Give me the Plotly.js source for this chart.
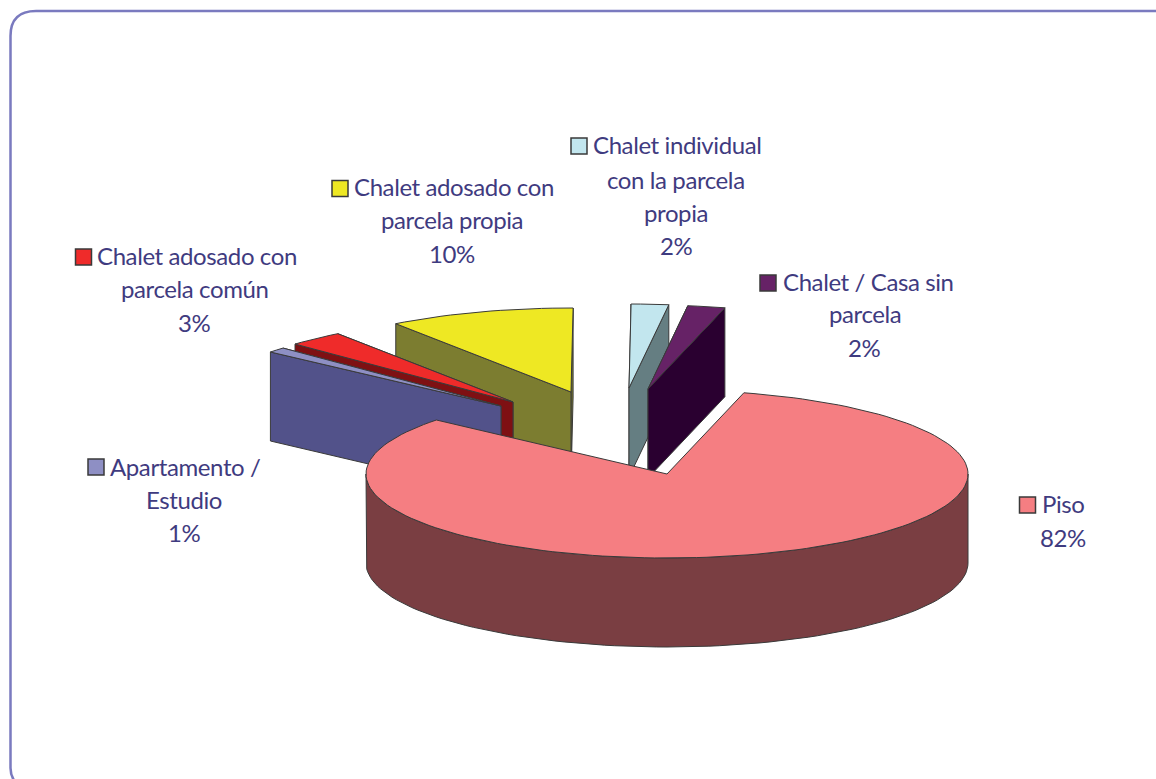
<!DOCTYPE html>
<html>
<head>
<meta charset="utf-8">
<script src="https://cdn.plot.ly/plotly-3.0.1.min.js"></script>
<style>
html,body{margin:0;padding:0;background:#fff;overflow:hidden}
#chart{width:1156px;height:779px}
.annotation-text{letter-spacing:-0.4px}
</style>
</head>
<body>
<div id="chart"></div>
<script>
// ---- data ----
const categories = ["Piso", "Apartamento / Estudio", "Chalet adosado con parcela común",
  "Chalet adosado con parcela propia", "Chalet individual con la parcela propia", "Chalet / Casa sin parcela"];
const values = [82, 1, 3, 10, 2, 2];
const labelLines = [["Piso"], ["Apartamento /", "Estudio"], ["Chalet adosado con", "parcela común"],
  ["Chalet adosado con", "parcela propia"], ["Chalet individual", "con la parcela", "propia"], ["Chalet / Casa sin", "parcela"]];

// ---- styles ----
const topColors = ["#F57E82", "#8E8FC4", "#EF2B2A", "#EEE823", "#C2E6EE", "#662266"];
const sideColors = ["#7A3E42", "#52528A", "#7E1013", "#7C7D30", "#657E82", "#2A0030"];
const textColor = "#3F3B80", edge = "#3A3A3A";

// ---- layout of the projected pie (pixel-valued axes) ----
const cx = 667, cy = 474, rx = 301, ry = 84, depth = 89, startAngle = 75.2;
const explode = [[0, 0], [-166, -68], [-154, -72], [-96, -82], [-38, -86], [-19, -85]];
const drawOrder = [3, 2, 1, 4, 5, 0];
// marker x,y ; first-line x ; centre x of other lines ; y of the lines
const labelPos = [
  {mx: 1027.5, my: 505, fx: 1040.5, cx: 1063, ys: [503.5, 537.5]},
  {mx: 96, my: 467, fx: 108.5, cx: 184, ys: [466.5, 499.5, 532.5]},
  {mx: 83.5, my: 257, fx: 95.5, cx: 194.5, ys: [255.5, 288.5, 322.5]},
  {mx: 340, my: 188.5, fx: 352.5, cx: 452, ys: [186.5, 219.5, 253.5]},
  {mx: 579, my: 146, fx: 591.5, cx: 676, ys: [144.5, 179.5, 212.5, 245.5]},
  {mx: 768, my: 283, fx: 781.5, cx: 864.5, ys: [281.5, 313.5, 347.5]}
];

const total = values.reduce((a, b) => a + b, 0);
const rad = d => d * Math.PI / 180;
let cursor = startAngle;
const spans = values.map(v => { const a = cursor, b = cursor - 360 * v / total; cursor = b; return [a, b]; });

function arc(a, b, ox, oy, dz) {
  const n = Math.max(2, Math.ceil(Math.abs(a - b) / 2)), xs = [], ys = [];
  for (let i = 0; i <= n; i++) {
    const t = a + (b - a) * i / n;
    xs.push(cx + ox + rx * Math.cos(rad(t)));
    ys.push(cy + oy + dz - ry * Math.sin(rad(t)));
  }
  return [xs, ys];
}
const poly = (xs, ys, fill, name) => ({
  type: "scatter", mode: "lines", x: xs.concat([xs[0]]), y: ys.concat([ys[0]]), fill: "toself", fillcolor: fill,
  line: {color: edge, width: 1}, hoverinfo: "text", text: name, showlegend: false
});

const traces = [];
drawOrder.forEach(i => {
  const [a, b] = spans[i], [ox, oy] = explode[i], px = cx + ox, py = cy + oy, name = categories[i];
  if (i === 0) {
    // curved front wall of the main slice
    const [tx, ty] = arc(0, -180, ox, oy, 0), [bx, by] = arc(-180, 0, ox, oy, depth);
    traces.push(poly(tx.concat(bx), ty.concat(by), sideColors[i], name));
  } else {
    // flat cut faces, the one nearest to horizontal in front
    [a, b].sort((p, q) => Math.abs(Math.cos(rad(p))) - Math.abs(Math.cos(rad(q)))).forEach(t => {
      const rxp = px + rx * Math.cos(rad(t)), ryp = py - ry * Math.sin(rad(t));
      traces.push(poly([px, rxp, rxp, px], [py, ryp, ryp + depth, py + depth], sideColors[i], name));
    });
  }
  const [tx, ty] = arc(a, b, ox, oy, 0);
  traces.push(poly([px].concat(tx), [py].concat(ty), topColors[i], name));
});

// legend keys
traces.push({
  type: "scatter", mode: "markers", x: labelPos.map(p => p.mx), y: labelPos.map(p => p.my),
  marker: {symbol: "square", size: 16, color: topColors, line: {color: edge, width: 1.5}},
  hoverinfo: "skip", showlegend: false
});

const font = {family: "Lato, 'Noto Sans', sans-serif", size: 24, color: textColor};
const annotations = [];
labelPos.forEach((p, i) => {
  labelLines[i].concat([values[i] + "%"]).forEach((line, k) => {
    annotations.push({
      xref: "x", yref: "y", x: k === 0 ? p.fx : p.cx, y: p.ys[k], text: line, showarrow: false,
      xanchor: k === 0 ? "left" : "center", yanchor: "middle", borderpad: 0, font
    });
  });
});

const layout = {
  width: 1156, height: 779, margin: {l: 0, r: 0, t: 0, b: 0}, autosize: false,
  paper_bgcolor: "#fff", plot_bgcolor: "#fff", showlegend: false,
  xaxis: {range: [0, 1156], visible: false, fixedrange: true},
  yaxis: {range: [779, 0], visible: false, fixedrange: true},
  annotations,
  shapes: [{
    type: "path", xref: "x", yref: "y", layer: "below",
    path: "M 1170 11 L 36 11 Q 10.5 11 10.5 36 L 10.5 768 Q 10.5 778 18 785",
    line: {color: "#7A7ABF", width: 2.5}
  }]
};
Plotly.newPlot("chart", traces, layout, {displayModeBar: false});
</script>
</body>
</html>
